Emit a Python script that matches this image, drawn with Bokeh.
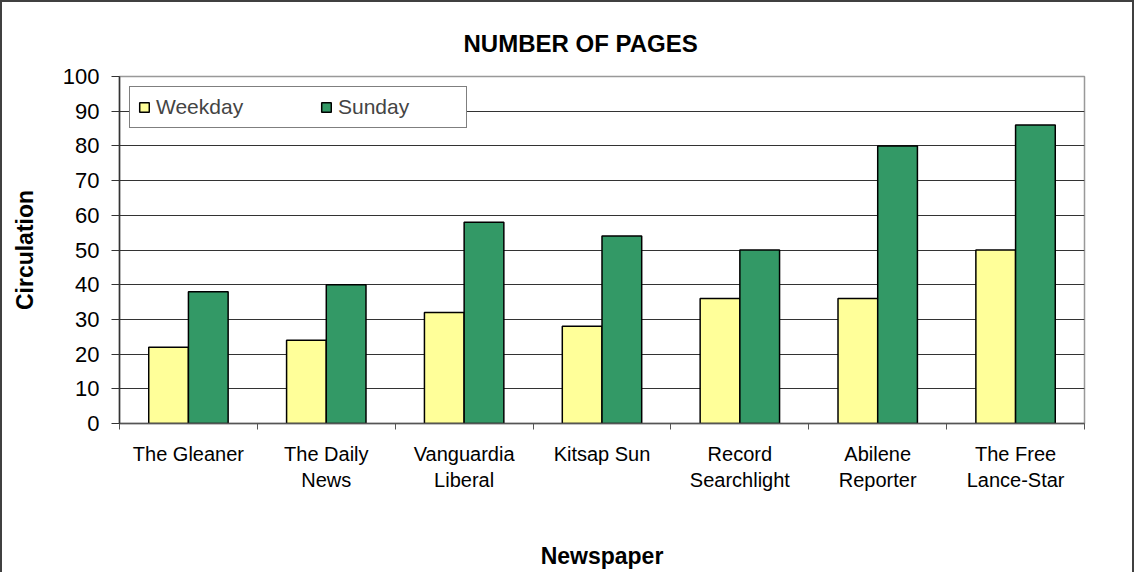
from bokeh.plotting import figure
from bokeh.models import (Range1d, LinearAxis, FixedTicker, ColumnDataSource, Legend, LegendItem,
                          SingleIntervalTicker)
from bokeh.transform import dodge
from bokeh.embed import file_html
from bokeh.resources import INLINE

# ---- data ----
categories = ["The Gleaner", "The Daily\nNews", "Vanguardia\nLiberal", "Kitsap Sun",
              "Record\nSearchlight", "Abilene\nReporter", "The Free\nLance-Star"]
weekday = [22, 24, 32, 28, 36, 36, 50]
sunday = [38, 40, 58, 54, 50, 80, 86]
series_names = ["Weekday", "Sunday"]
title_text = "NUMBER OF PAGES"
x_title = "Newspaper"
y_title = "Circulation"

FONT = "Liberation Sans"
YELLOW = "#FFFF99"
GREEN = "#339966"

n = len(categories)
idx = list(range(n))
source = ColumnDataSource(dict(idx=idx, cat=categories, weekday=weekday, sunday=sunday))

p = figure(x_range=Range1d(-0.5, n - 0.5), y_range=Range1d(0, 100),
           width=1134, height=572, output_backend="svg", toolbar_location=None,
           x_axis_location=None, y_axis_location="left",
           min_border_left=117, min_border_right=52, min_border_top=74, min_border_bottom=151)

p.styles = {"border-left": "2px solid #404040", "border-top": "2px solid #404040",
            "border-right": "2px solid #404040", "box-sizing": "border-box"}

bw = 0.288
r1 = p.vbar(x=dodge("idx", -bw / 2), top="weekday", width=bw, source=source,
            fill_color=YELLOW, line_color="black", line_width=1.5)
r2 = p.vbar(x=dodge("idx", bw / 2), top="sunday", width=bw, source=source,
            fill_color=GREEN, line_color="black", line_width=1.5)

# title
p.title.text = title_text
p.title.text_font = FONT
p.title.text_font_size = "24px"
p.title.text_font_style = "bold"
p.title.text_color = "black"
p.title.align = "left"
p.title.offset = 344
p.title.standoff = 40

# frame
p.outline_line_color = "#999999"
p.outline_line_width = 1.5
p.background_fill_color = "white"
p.border_fill_color = "white"

# y axis
yax = p.yaxis[0]
yax.ticker = SingleIntervalTicker(interval=10)
yax.minor_tick_line_color = None
yax.major_tick_out = 8
yax.major_tick_in = 0
yax.axis_line_color = "#333333"
yax.axis_line_width = 1.5
yax.major_tick_line_color = "#333333"
yax.major_label_text_font = FONT
yax.major_label_text_font_size = "22px"
yax.major_label_text_color = "black"
yax.major_label_standoff = 12
yax.axis_label = y_title
yax.axis_label_text_font = FONT
yax.axis_label_text_font_size = "23px"
yax.axis_label_text_font_style = "bold"
yax.axis_label_text_color = "black"
yax.axis_label_standoff = 22

p.ygrid.grid_line_color = "#333333"
p.ygrid.grid_line_width = 1.2
p.xgrid.visible = False

# x axis: boundary ticks (no labels)
bounds = [i - 0.5 for i in range(n + 1)]
tick_axis = LinearAxis(ticker=FixedTicker(ticks=bounds),
                       major_label_overrides={b: "" for b in bounds},
                       major_label_text_font_size="1px", major_label_standoff=0,
                       minor_tick_line_color=None, major_tick_out=6, major_tick_in=0,
                       axis_line_color="#555555", axis_line_width=1.5, major_tick_line_color="#555555")
p.add_layout(tick_axis, "below")

cat_axis = LinearAxis(ticker=FixedTicker(ticks=idx),
                      major_label_overrides={i: c for i, c in zip(idx, categories)},
                      axis_line_color=None, major_tick_line_color=None, minor_tick_line_color=None,
                      major_label_text_font=FONT, major_label_text_font_size="20px",
                      major_label_text_color="black", major_label_standoff=7,
                      axis_label=x_title, axis_label_text_font=FONT,
                      axis_label_text_font_size="23px", axis_label_text_font_style="bold",
                      axis_label_text_color="black", axis_label_standoff=49)
p.add_layout(cat_axis, "below")

legend = Legend(items=[LegendItem(label=series_names[0], renderers=[r1]),
                       LegendItem(label=series_names[1], renderers=[r2])],
                orientation="horizontal", location="top_left",
                border_line_color="black", border_line_width=1.5,
                background_fill_color="white", background_fill_alpha=1,
                label_text_font=FONT, label_text_font_size="21px",
                glyph_width=12, glyph_height=12, label_standoff=6,
                padding=8, spacing=44, label_width=120, margin=10)
p.add_layout(legend, "center")

open("out.html", "w").write(file_html(p, INLINE))
